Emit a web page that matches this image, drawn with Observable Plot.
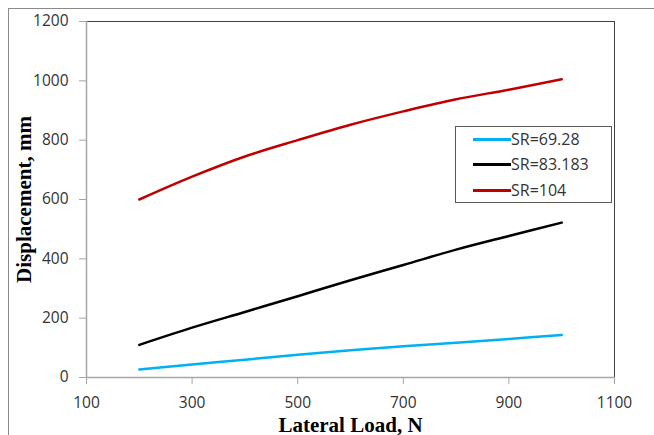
<!DOCTYPE html>
<html><head><meta charset="utf-8">
<script src="https://cdn.jsdelivr.net/npm/d3@7"></script>
<script src="https://cdn.jsdelivr.net/npm/@observablehq/plot@0.6"></script>
<style>
html,body{margin:0;padding:0;background:#fff;}
#wrap{position:relative;width:654px;height:435px;overflow:hidden;background:#fff;}
#border{position:absolute;left:8px;top:8px;width:800px;height:600px;border:1px solid #8a8a8a;}
#chart{position:absolute;left:0;top:0;}
#legend{position:absolute;left:455px;top:126px;width:157px;height:77px;border:1px solid #5a5a5a;background:#fff;box-sizing:border-box;font-family:"Open Sans";font-size:16px;color:#333;}
.item{position:absolute;left:17px;height:20px;display:flex;align-items:center;}
.sw{width:38px;height:3px;}
.lab{margin-left:0px;line-height:20px;}
svg g[aria-label="x-axis tick label"] text, svg g[aria-label="y-axis tick label"] text{font-family:"Open Sans";font-size:15.5px;}
svg g[aria-label="x-axis label"] text, svg g[aria-label="y-axis label"] text{font-family:"Liberation Serif";font-weight:bold;font-size:21px;fill:#000;}
</style>
</head><body>
<div id="wrap"><div id="border"></div><div id="chart"></div><div id="legend"></div></div>
<script>
const loads = [200, 300, 400, 500, 600, 700, 800, 900, 1000];
const seriesNames = ["SR=69.28", "SR=83.183", "SR=104"];
const sr69 = [27, 44, 60, 77, 92, 105, 117, 130, 143];
const sr83 = [110, 168, 221, 274, 328, 379, 431, 477, 522];
const sr104 = [600, 677, 745, 800, 852, 897, 938, 970, 1005];
const seriesColors = ["#00b0f0", "#000000", "#c00000"];
const xTicks = [100, 300, 500, 700, 900, 1100];
const yTicks = [0, 200, 400, 600, 800, 1000, 1200];
const xTitle = "Lateral Load, N";
const yTitle = "Displacement, mm";

const allSeries = [sr69, sr83, sr104];
const data = [];
allSeries.forEach((vals, i) => vals.forEach((v, j) => data.push({series: seriesNames[i], load: loads[j], value: v})));

const chart = Plot.plot({
  width: 654, height: 435,
  marginLeft: 86, marginRight: 40, marginTop: 21, marginBottom: 58,
  style: {background: "transparent", color: "#333"},
  x: {domain: [100, 1100]},
  y: {domain: [0, 1200]},
  color: {domain: seriesNames, range: seriesColors},
  marks: [
    Plot.frame({stroke: "#404040"}),
    Plot.ruleX([100], {stroke: "#a6a6a6", strokeWidth: 1.5}),
    Plot.ruleY([0], {stroke: "#a6a6a6", strokeWidth: 1.5}),
    Plot.axisX({ticks: xTicks, tickFormat: d => String(d), tickSize: 7, tickPadding: 12, stroke: "#a6a6a6", fill: "#333", label: xTitle, labelAnchor: "center", labelOffset: 54, labelArrow: "none"}),
    Plot.axisY({ticks: yTicks, tickFormat: d => String(d), tickSize: 7, tickPadding: 11, stroke: "#a6a6a6", fill: "#333", label: yTitle, labelAnchor: "center", labelOffset: 70, labelArrow: "none"}),
    Plot.line(data, {x: "load", y: "value", z: "series", stroke: "series", strokeWidth: 2.5, curve: "catmull-rom"})
  ]
});
document.getElementById("chart").appendChild(chart);

const legend = document.getElementById("legend");
const rowTops = [2, 27, 53];
seriesNames.forEach((name, i) => {
  const it = document.createElement("div");
  it.className = "item";
  it.style.top = rowTops[i] + "px";
  it.innerHTML = `<div class="sw" style="background:${seriesColors[i]}"></div><span class="lab">${name}</span>`;
  legend.appendChild(it);
});
</script>
</body></html>
